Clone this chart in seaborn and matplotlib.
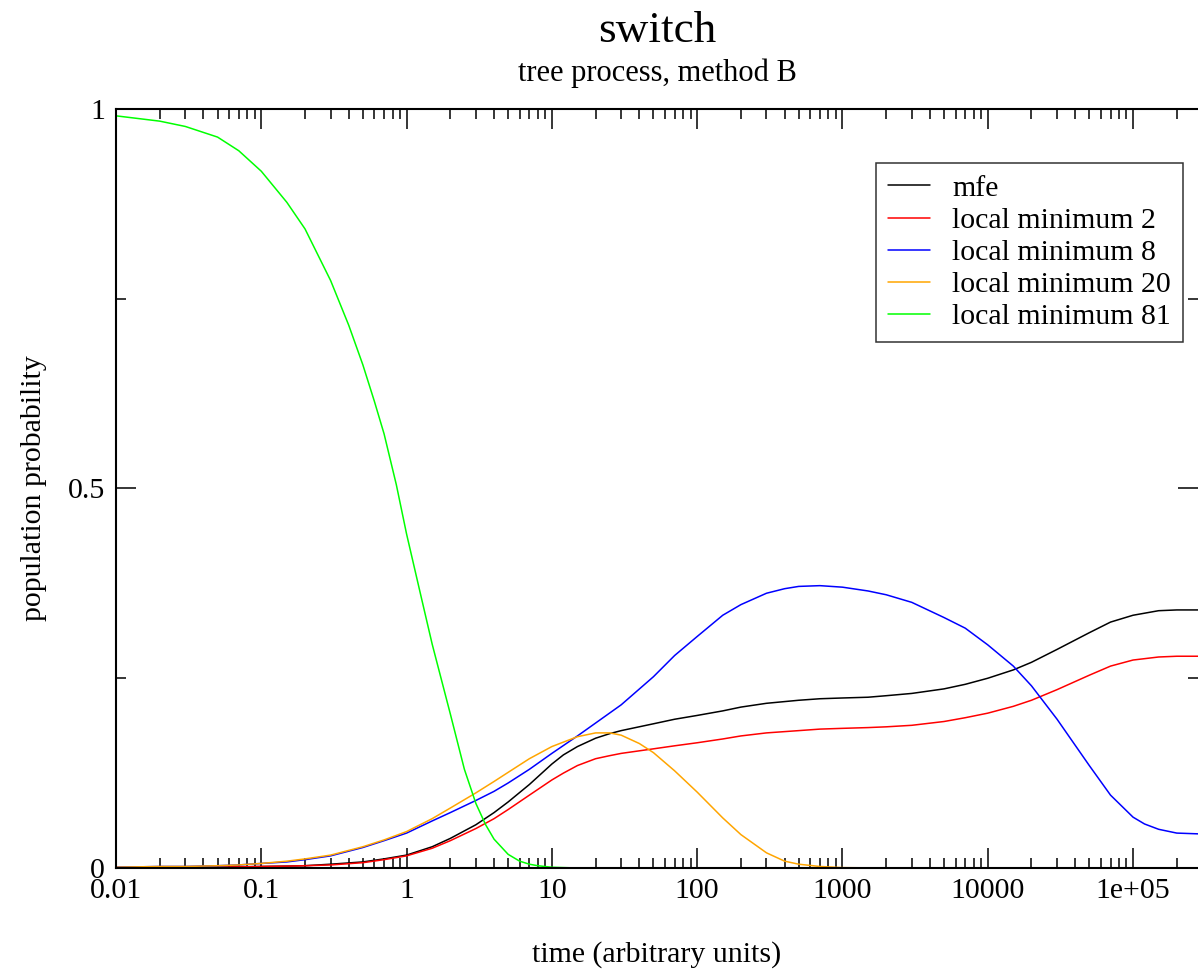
import numpy as np
import pandas as pd
import matplotlib
matplotlib.use("Agg")
import matplotlib.pyplot as plt
import matplotlib.ticker as mticker
import seaborn as sns

# data (time, population probability), one set per curve
t_mfe = [0.01, 0.02, 0.05, 0.1, 0.15, 0.2, 0.3, 0.5, 0.7, 1, 1.5, 2, 3, 4, 5, 7,
         10, 12, 15, 20, 25, 30, 50, 70, 100, 150, 200, 300, 500, 700, 1000,
         1500, 2000, 3000, 5000, 7000, 1e4, 1.5e4, 2e4, 3e4, 5e4, 7e4, 1e5,
         1.5e5, 2e5, 2.8e5]
mfe = [0.0005, 0.0007, 0.001, 0.002, 0.0025, 0.003, 0.005, 0.008, 0.012, 0.017,
       0.028, 0.039, 0.057, 0.073, 0.087, 0.11, 0.137, 0.149, 0.16, 0.171,
       0.177, 0.181, 0.19, 0.196, 0.201, 0.207, 0.212, 0.217, 0.221, 0.223,
       0.224, 0.225, 0.227, 0.23, 0.236, 0.242, 0.25, 0.261, 0.271, 0.288,
       0.31, 0.324, 0.333, 0.339, 0.34, 0.34]

t_lmin2 = t_mfe
lmin2 = [0.0005, 0.0007, 0.001, 0.002, 0.0025, 0.003, 0.004, 0.007, 0.011,
         0.016, 0.026, 0.036, 0.052, 0.065, 0.077, 0.096, 0.116, 0.125, 0.135,
         0.144, 0.148, 0.151, 0.157, 0.161, 0.165, 0.17, 0.174, 0.178, 0.181,
         0.183, 0.184, 0.185, 0.186, 0.188, 0.193, 0.198, 0.204, 0.213, 0.221,
         0.235, 0.254, 0.266, 0.274, 0.278, 0.279, 0.279]

t_lmin8 = [0.01, 0.02, 0.03, 0.05, 0.07, 0.1, 0.15, 0.2, 0.3, 0.5, 0.7, 1, 1.5,
           2, 3, 4, 5, 7, 10, 15, 20, 30, 50, 70, 100, 150, 200, 300, 400, 500,
           700, 1000, 1500, 2000, 3000, 5000, 7000, 1e4, 1.5e4, 2e4, 3e4, 5e4,
           7e4, 1e5, 1.2e5, 1.5e5, 2e5, 2.8e5]
lmin8 = [0.001, 0.002, 0.002, 0.003, 0.004, 0.006, 0.008, 0.011, 0.016, 0.027,
         0.036, 0.046, 0.062, 0.073, 0.089, 0.101, 0.112, 0.13, 0.151, 0.174,
         0.191, 0.215, 0.252, 0.28, 0.305, 0.333, 0.347, 0.362, 0.368, 0.371,
         0.372, 0.37, 0.365, 0.36, 0.35, 0.33, 0.316, 0.294, 0.266, 0.24, 0.196,
         0.135, 0.096, 0.067, 0.058, 0.051, 0.046, 0.045]

t_lmin20 = [0.01, 0.02, 0.03, 0.05, 0.07, 0.1, 0.15, 0.2, 0.3, 0.5, 0.7, 1, 1.5,
            2, 3, 4, 5, 7, 10, 15, 20, 25, 30, 40, 50, 70, 100, 150, 200, 300,
            400, 500, 700, 1000, 2000, 2.8e5]
lmin20 = [0.001, 0.002, 0.002, 0.003, 0.004, 0.006, 0.009, 0.012, 0.017, 0.028,
          0.037, 0.048, 0.065, 0.079, 0.099, 0.114, 0.126, 0.144, 0.16, 0.173,
          0.178, 0.178, 0.175, 0.164, 0.152, 0.128, 0.1, 0.066, 0.044, 0.02,
          0.009, 0.005, 0.002, 0.0005, 0.0, 0.0]

t_lmin81 = [0.01, 0.02, 0.03, 0.05, 0.07, 0.1, 0.15, 0.2, 0.3, 0.4, 0.5, 0.6,
            0.7, 0.85, 1, 1.25, 1.5, 2, 2.5, 3, 3.5, 4, 5, 6, 7, 8, 10, 15, 2.8e5]
lmin81 = [0.991, 0.984, 0.977, 0.963, 0.945, 0.918, 0.877, 0.842, 0.774, 0.715,
          0.663, 0.615, 0.572, 0.505, 0.44, 0.36, 0.295, 0.203, 0.13, 0.085,
          0.057, 0.038, 0.018, 0.009, 0.005, 0.003, 0.001, 0.0, 0.0]

series_names = ["mfe", "local minimum 2", "local minimum 8",
                "local minimum 20", "local minimum 81"]
series_times = [t_mfe, t_lmin2, t_lmin8, t_lmin20, t_lmin81]
series_values = [mfe, lmin2, lmin8, lmin20, lmin81]
series_colors = ["#000000", "#ff0000", "#0000ff", "#ffa500", "#00ff00"]

xtick_values = [0.01, 0.1, 1, 10, 100, 1000, 10000, 1e5]
xtick_labels = ["0.01", "0.1", "1", "10", "100", "1000", "10000", "1e+05"]
ytick_values = [0, 0.5, 1]
ytick_labels = ["0", "0.5", "1"]

sns.set_style("ticks")
plt.rcParams["font.family"] = ["Liberation Serif", "DejaVu Serif"]
plt.rcParams["text.color"] = "black"
plt.rcParams["axes.labelcolor"] = "black"

fig = plt.figure(figsize=(11.98, 9.71), dpi=100)
ax = fig.add_axes([116 / 1198, 1 - 868 / 971, 1 - 116 / 1198, (868 - 109) / 971])

for name, tt, vals, col in zip(series_names, series_times, series_values, series_colors):
    df = pd.DataFrame({"time": tt, "prob": vals})
    sns.lineplot(data=df, x="time", y="prob", color=col, lw=1.1, label=name, ax=ax)

ax.set_xscale("log")
ax.set_xlim(0.01, 2.8e5)
ax.set_ylim(0, 1)

ax.xaxis.set_major_locator(mticker.FixedLocator(xtick_values))
ax.xaxis.set_major_formatter(mticker.FixedFormatter(xtick_labels))
ax.xaxis.set_minor_locator(mticker.LogLocator(base=10, subs=np.arange(2, 10), numticks=20))
ax.xaxis.set_minor_formatter(mticker.NullFormatter())
ax.yaxis.set_major_locator(mticker.FixedLocator(ytick_values))
ax.yaxis.set_major_formatter(mticker.FixedFormatter(ytick_labels))
ax.yaxis.set_minor_locator(mticker.FixedLocator([0.25, 0.75]))

ax.tick_params(which="both", direction="in", top=True, right=True,
               width=1.1, color="black", labelsize=21.5, labelcolor="black")
ax.tick_params(which="major", length=14.4)
ax.tick_params(which="minor", length=7.2)
ax.tick_params(axis="x", pad=7)
ax.tick_params(axis="y", pad=8)

for side in ["left", "bottom", "top"]:
    ax.spines[side].set_linewidth(1.5)
    ax.spines[side].set_color("black")
ax.spines["right"].set_visible(False)

ax.set_xlabel("time (arbitrary units)", fontsize=21.5, labelpad=27)
ax.set_ylabel("population probability", fontsize=21.5, labelpad=15)

fig.text(657 / 1198, 1 - 31 / 971, "switch", ha="center", va="center", fontsize=32.5)
fig.text(657 / 1198, 1 - 73 / 971, "tree process, method B", ha="center",
         va="center", fontsize=22)

leg = ax.legend(loc="upper right", bbox_to_anchor=(1183 / 1198, 1 - 163 / 971),
                bbox_transform=fig.transFigure, borderaxespad=0, fontsize=21.5,
                frameon=True, fancybox=False, handlelength=1.4, handletextpad=0.75,
                labelspacing=0.175, borderpad=0.4)
leg.get_frame().set_edgecolor("black")
leg.get_frame().set_linewidth(1.1)
for line in leg.get_lines():
    line.set_linewidth(1.1)

fig.savefig("out.png", dpi=100)
